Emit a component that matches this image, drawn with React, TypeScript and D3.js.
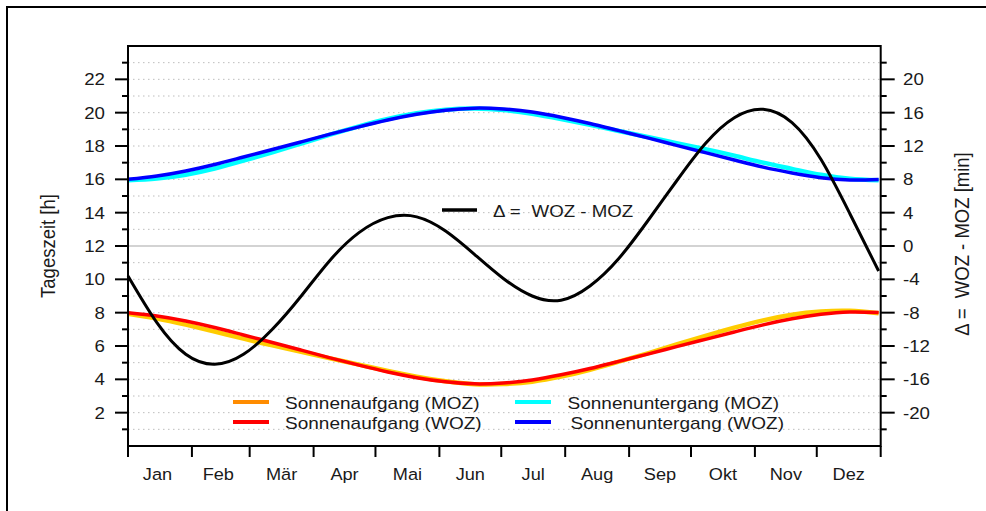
import React from "react";
import * as d3 from "d3";

// day of year (0 = 1. Jan), every 14 days
const days = [0, 14, 28, 42, 56, 70, 84, 98, 112, 126, 140, 154, 168, 182, 196, 210, 224, 238, 252, 266, 280, 294, 308, 322, 336, 350, 364];

// WOZ - MOZ in minutes (right axis)
const delta = [-3.6, -9.2, -13.0, -14.2, -13.0, -10.0, -6.0, -1.7, 1.6, 3.4, 3.5, 1.8, -1.0, -3.9, -6.0, -6.5, -4.8, -1.5, 3.0, 7.8, 12.3, 15.4, 16.4, 14.8, 10.4, 3.9, -3.0];

// hours (left axis)
const riseMOZ = [7.94, 7.65, 7.28, 6.87, 6.44, 6.04, 5.65, 5.26, 4.88, 4.5, 4.16, 3.88, 3.71, 3.72, 3.86, 4.16, 4.57, 5.06, 5.56, 6.09, 6.61, 7.1, 7.54, 7.88, 8.07, 8.11, 7.96];
const riseWOZ = [8.0, 7.8, 7.5, 7.11, 6.66, 6.21, 5.75, 5.29, 4.85, 4.44, 4.1, 3.85, 3.73, 3.78, 3.96, 4.27, 4.65, 5.08, 5.51, 5.96, 6.4, 6.84, 7.27, 7.63, 7.9, 8.04, 8.01];
const setMOZ = [15.94, 16.05, 16.28, 16.65, 17.12, 17.62, 18.15, 18.68, 19.18, 19.62, 19.96, 20.18, 20.25, 20.16, 19.94, 19.62, 19.27, 18.9, 18.54, 18.17, 17.81, 17.42, 17.0, 16.63, 16.27, 16.03, 15.94];
const setWOZ = [16.0, 16.2, 16.5, 16.89, 17.34, 17.79, 18.25, 18.71, 19.15, 19.56, 19.9, 20.15, 20.27, 20.22, 20.04, 19.73, 19.35, 18.92, 18.49, 18.04, 17.6, 17.16, 16.73, 16.38, 16.1, 15.96, 15.99];

const months = ["Jan", "Feb", "Mär", "Apr", "Mai", "Jun", "Jul", "Aug", "Sep", "Okt", "Nov", "Dez"];
const monthStarts = [0, 31, 59, 90, 120, 151, 181, 212, 243, 273, 304, 334, 365];

const leftTicks = [2, 4, 6, 8, 10, 12, 14, 16, 18, 20, 22];
const rightTicks = [-20, -16, -12, -8, -4, 0, 4, 8, 12, 16, 20];

const legendItems = [
  { label: "Sonnenaufgang (MOZ)", color: "#ff8c00" },
  { label: "Sonnenaufgang (WOZ)", color: "#ff0000" },
  { label: "Sonnenuntergang (MOZ)", color: "#00ffff" },
  { label: "Sonnenuntergang (WOZ)", color: "#0000ff" },
];

const font = "Arial, 'Liberation Sans', sans-serif";
const ink = "#1a1a1a";

// the reference text is a little wider than plain Arial
function T({ x, y, children, anchor = "start", size = 17, sx = 1.1 }: any) {
  return (
    <text transform={`translate(${x},${y}) scale(${sx},1)`} dy="0.35em" textAnchor={anchor} fontSize={size} fill={ink}
      style={{ whiteSpace: "pre" }}>{children}</text>
  );
}

export default function App() {
  const left = 128, right = 880.7, top = 46, bottom = 446;

  const x = d3.scaleLinear().domain([0, 365]).range([left, right]);
  const y = d3.scaleLinear().domain([0, 24]).range([bottom, top]);
  const y2 = d3.scaleLinear().domain([-24, 24]).range([bottom, top]);

  const curve = d3.curveNatural;
  const hourLine = d3.line<number>().x((_, i) => x(days[i])).y(d => y(d)).curve(curve);
  const minLine = d3.line<number>().x((_, i) => x(days[i])).y(d => y2(d)).curve(curve);

  const grid = d3.range(1, 24);

  return (
    <svg width={986} height={511} style={{ position: "absolute", left: 0, top: 0, background: "#fff" }}
      fontFamily={font}>
      <rect x={0} y={0} width={986} height={511} fill="#fff" />
      {/* outer frame, cut off right and bottom */}
      <rect x={7} y={7} width={1000} height={520} fill="none" stroke="#000" strokeWidth={2} />

      {/* grid */}
      {grid.map(v => v === 12 ? null : (
        <line key={v} x1={left} x2={right} y1={y(v)} y2={y(v)} stroke="#bdbdbd" strokeWidth={1} strokeDasharray="1.5 3.5" />
      ))}
      <line x1={left} x2={right} y1={y(12)} y2={y(12)} stroke="#c4c4c4" strokeWidth={1.5} />

      {/* series */}
      <path d={hourLine(riseMOZ) ?? ""} fill="none" stroke="#ffcc00" strokeWidth={4.5} />
      <path d={hourLine(riseWOZ) ?? ""} fill="none" stroke="#ff0000" strokeWidth={3.5} />
      <path d={hourLine(setMOZ) ?? ""} fill="none" stroke="#00ffff" strokeWidth={4.5} />
      <path d={hourLine(setWOZ) ?? ""} fill="none" stroke="#0000ff" strokeWidth={3.5} />
      <path d={minLine(delta) ?? ""} fill="none" stroke="#000" strokeWidth={3} />

      {/* plot box */}
      <rect x={left} y={top} width={right - left} height={bottom - top} fill="none" stroke="#000" strokeWidth={2} />

      {/* left axis */}
      {grid.map(v => (
        <line key={v} x1={left} x2={left - (v % 2 === 0 ? 13 : 6)} y1={y(v)} y2={y(v)} stroke="#000" strokeWidth={2} />
      ))}
      {leftTicks.map(v => <T key={v} x={105} y={y(v)} anchor="end">{v}</T>)}
      <text transform={`translate(48,${y(12)}) rotate(-90) scale(1,1.1)`} textAnchor="middle" dy="0.35em" fontSize={18.5} fill={ink}>Tageszeit [h]</text>

      {/* right axis */}
      {d3.range(-22, 24, 2).map(v => (
        <line key={v} x1={right} x2={right + (v % 4 === 0 ? 14 : 6)} y1={y2(v)} y2={y2(v)} stroke="#000" strokeWidth={2} />
      ))}
      {rightTicks.map(v => <T key={v} x={903} y={y2(v)}>{v}</T>)}
      <text transform={`translate(962,244) rotate(-90) scale(1,1.1)`} textAnchor="middle" dy="0.35em" fontSize={18.5} fill={ink}
        style={{ whiteSpace: "pre" }}>{"Δ =  WOZ - MOZ [min]"}</text>

      {/* bottom axis */}
      {monthStarts.map(d => (
        <line key={d} x1={x(d)} x2={x(d)} y1={bottom} y2={bottom + 11} stroke="#000" strokeWidth={2} />
      ))}
      {months.map((m, i) => (
        <T key={m} x={x((monthStarts[i] + monthStarts[i + 1]) / 2) - (i < 2 ? 2.5 : 0)} y={474} anchor="middle" sx={1.07}>{m}</T>
      ))}

      {/* delta label */}
      <line x1={442} x2={477} y1={210} y2={210} stroke="#000" strokeWidth={3.5} />
      <T x={493} y={211}>Δ =</T>
      <T x={531.5} y={211}>WOZ - MOZ</T>

      {/* legend */}
      {legendItems.map((it, i) => {
        const col = Math.floor(i / 2), row = i % 2;
        const lx = col === 0 ? 233 : 515;
        const tx = col === 0 ? 285 : 567.5 + row * 3;
        const ly = 402 + row * 20;
        return (
          <g key={it.label}>
            <line x1={lx} x2={lx + 36} y1={ly} y2={ly} stroke={it.color} strokeWidth={4} />
            <T x={tx} y={ly + 1} sx={1.12}>{it.label}</T>
          </g>
        );
      })}
    </svg>
  );
}
